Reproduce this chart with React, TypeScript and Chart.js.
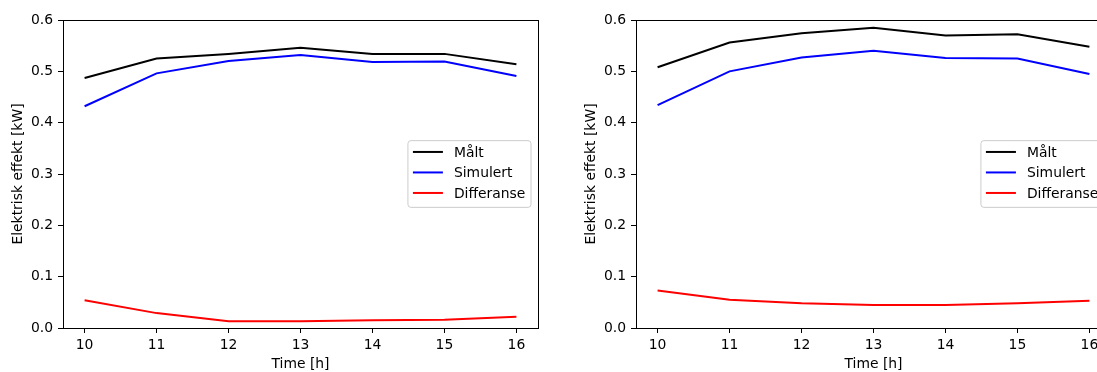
import React, { useEffect, useRef } from 'react';
import { Chart, registerables } from 'chart.js';

Chart.register(...registerables);

const hours = [10, 11, 12, 13, 14, 15, 16];
const yTicks = [0, 0.1, 0.2, 0.3, 0.4, 0.5, 0.6];
const seriesLabels = ['Målt', 'Simulert', 'Differanse'];
const seriesColors = ['#000000', '#0000ff', '#ff0000'];

const leftMalt = [0.487, 0.525, 0.534, 0.546, 0.534, 0.534, 0.514];
const leftSimulert = [0.432, 0.496, 0.52, 0.532, 0.518, 0.519, 0.491];
const leftDifferanse = [0.054, 0.029, 0.013, 0.013, 0.015, 0.016, 0.022];

const rightMalt = [0.508, 0.556, 0.574, 0.585, 0.57, 0.572, 0.548];
const rightSimulert = [0.434, 0.5, 0.527, 0.54, 0.526, 0.525, 0.495];
const rightDifferanse = [0.073, 0.055, 0.048, 0.045, 0.045, 0.048, 0.053];

const xLabel = 'Time [h]';
const yLabel = 'Elektrisk effekt [kW]';

const FONT = 'DejaVu Sans';
const FS = 13.9;

const framePlugin = {
  id: 'frame',
  afterDatasetsDraw(chart: any) {
    const { ctx, chartArea } = chart;
    ctx.save();
    ctx.strokeStyle = '#000';
    ctx.lineWidth = 1;
    ctx.strokeRect(
      Math.round(chartArea.left) + 0.5,
      Math.round(chartArea.top) + 0.5,
      Math.round(chartArea.right) - Math.round(chartArea.left),
      Math.round(chartArea.bottom) - Math.round(chartArea.top)
    );
    ctx.restore();
  },
};

const legendPlugin = {
  id: 'mplLegend',
  afterDraw(chart: any) {
    const { ctx, chartArea } = chart;
    const ds = chart.data.datasets;
    ctx.save();
    ctx.font = `${FS}px "${FONT}"`;
    let maxW = 0;
    ds.forEach((d: any) => {
      maxW = Math.max(maxW, ctx.measureText(d.label).width);
    });
    const w = 46 + maxW + 5.6;
    const h = 66.7;
    const right = chartArea.right - 7;
    const left = right - w;
    const top = (chartArea.top + chartArea.bottom) / 2 - h / 2;
    const r = 3;
    ctx.beginPath();
    ctx.moveTo(left + r, top);
    ctx.lineTo(left + w - r, top);
    ctx.arcTo(left + w, top, left + w, top + r, r);
    ctx.lineTo(left + w, top + h - r);
    ctx.arcTo(left + w, top + h, left + w - r, top + h, r);
    ctx.lineTo(left + r, top + h);
    ctx.arcTo(left, top + h, left, top + h - r, r);
    ctx.lineTo(left, top + r);
    ctx.arcTo(left, top, left + r, top, r);
    ctx.closePath();
    ctx.fillStyle = 'rgba(255,255,255,0.8)';
    ctx.fill();
    ctx.strokeStyle = '#cccccc';
    ctx.lineWidth = 1;
    ctx.stroke();
    ds.forEach((d: any, i: number) => {
      const y = top + 11.3 + i * 20.5;
      ctx.beginPath();
      ctx.moveTo(left + 5, y);
      ctx.lineTo(left + 35, y);
      ctx.strokeStyle = d.borderColor;
      ctx.lineWidth = 2;
      ctx.stroke();
      ctx.fillStyle = '#000';
      ctx.textBaseline = 'middle';
      ctx.textAlign = 'left';
      ctx.fillText(d.label, left + 46, y + 1);
    });
    ctx.restore();
  },
};

function Panel({ series, x }: { series: number[][]; x: number }) {
  const ref = useRef<HTMLCanvasElement>(null);
  useEffect(() => {
    if (!ref.current) return;
    const chart = new Chart(ref.current, {
      type: 'line',
      data: {
        datasets: series.map((vals, i) => ({
          label: seriesLabels[i],
          data: hours.map((h, j) => ({ x: h, y: vals[j] })),
          borderColor: seriesColors[i],
          backgroundColor: seriesColors[i],
          borderWidth: 2,
          pointRadius: 0,
          tension: 0,
          fill: false,
        })),
      },
      options: {
        animation: false,
        responsive: false,
        maintainAspectRatio: false,
        devicePixelRatio: 1,
        layout: { padding: { top: 20, right: 10, bottom: 0, left: 0 } },
        plugins: { legend: { display: false }, tooltip: { enabled: false } },
        scales: {
          x: {
            type: 'linear',
            min: 9.7,
            max: 16.3,
            afterBuildTicks: (s: any) => {
              s.ticks = hours.map((v) => ({ value: v }));
            },
            afterFit: (s: any) => {
              s.height = 44;
            },
            ticks: {
              color: '#000',
              font: { family: FONT, size: FS },
              padding: 4,
              autoSkip: false,
              maxRotation: 0,
              callback: (v: any) => String(v),
            },
            grid: { drawOnChartArea: false, drawTicks: true, tickLength: 5, color: '#000', lineWidth: 1 },
            border: { display: false },
            title: {
              display: true,
              text: xLabel,
              color: '#000',
              font: { family: FONT, size: FS, lineHeight: 1.05 },
              padding: { top: 0, bottom: 0 },
            },
          },
          y: {
            type: 'linear',
            min: 0,
            max: 0.6,
            afterBuildTicks: (s: any) => {
              s.ticks = yTicks.map((v) => ({ value: v }));
            },
            afterFit: (s: any) => {
              s.width = 63;
            },
            ticks: {
              color: '#000',
              font: { family: FONT, size: FS },
              padding: 5,
              autoSkip: false,
              callback: (v: any) => Number(v).toFixed(1),
            },
            grid: { drawOnChartArea: false, drawTicks: true, tickLength: 5, color: '#000', lineWidth: 1 },
            border: { display: false },
            title: {
              display: true,
              text: yLabel,
              color: '#000',
              font: { family: FONT, size: FS },
              padding: { top: 10, bottom: 0 },
            },
          },
        },
      },
      plugins: [framePlugin, legendPlugin],
    });
    return () => chart.destroy();
  }, [series]);
  return (
    <canvas
      ref={ref}
      width={548}
      height={372}
      style={{ position: 'absolute', left: x, top: 0, width: 548, height: 372, display: 'block' }}
    />
  );
}

const leftSeries = [leftMalt, leftSimulert, leftDifferanse];
const rightSeries = [rightMalt, rightSimulert, rightDifferanse];

export default function App() {
  return (
    <div
      style={{
        position: 'fixed',
        left: 0,
        top: 0,
        width: 1097,
        height: 372,
        overflow: 'hidden',
        background: '#fff',
      }}
    >
      <Panel series={leftSeries} x={0} />
      <Panel series={rightSeries} x={573} />
    </div>
  );
}
